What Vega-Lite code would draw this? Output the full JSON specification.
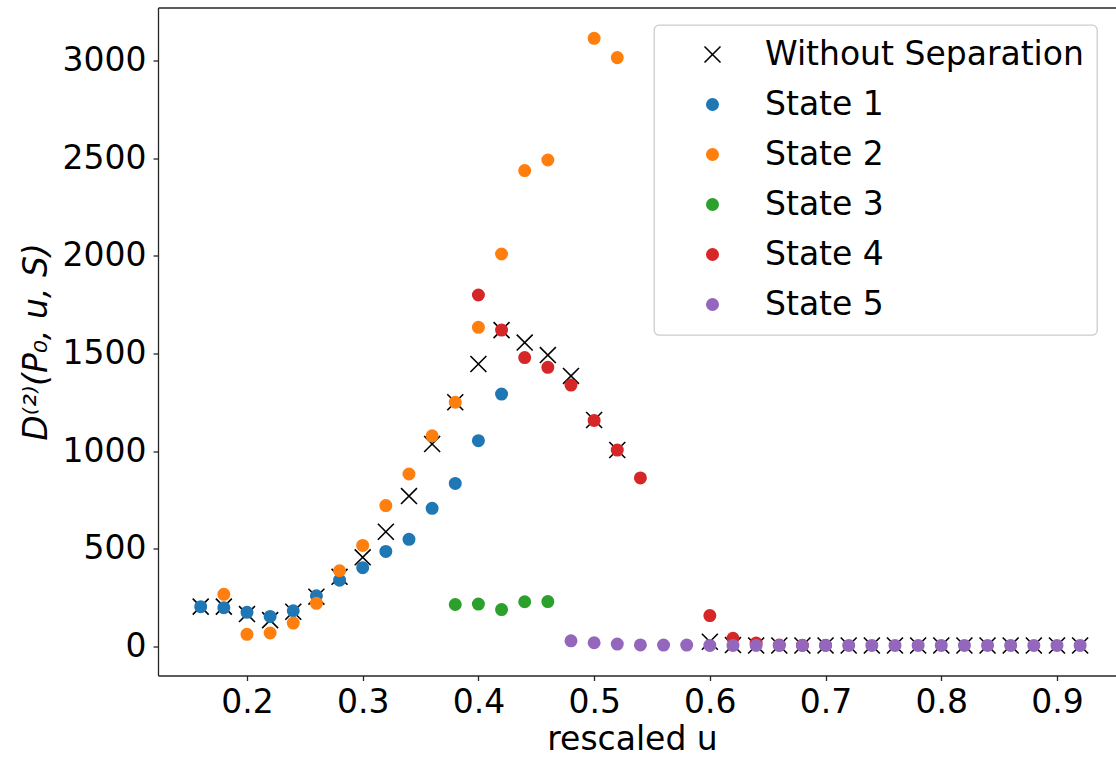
{
  "$schema": "https://vega.github.io/schema/vega-lite/v6.json",
  "autosize": {"type": "none"},
  "padding": {"left": 158, "top": 7.5, "right": 0, "bottom": 81.5},
  "width": 958,
  "height": 668,
  "data": {"values": [
    {"u": 0.16, "D": 202, "series": "Without Separation"},
    {"u": 0.18, "D": 202, "series": "Without Separation"},
    {"u": 0.20, "D": 164, "series": "Without Separation"},
    {"u": 0.22, "D": 133, "series": "Without Separation"},
    {"u": 0.24, "D": 176, "series": "Without Separation"},
    {"u": 0.26, "D": 253, "series": "Without Separation"},
    {"u": 0.28, "D": 355, "series": "Without Separation"},
    {"u": 0.30, "D": 455, "series": "Without Separation"},
    {"u": 0.32, "D": 586, "series": "Without Separation"},
    {"u": 0.34, "D": 769, "series": "Without Separation"},
    {"u": 0.36, "D": 1036, "series": "Without Separation"},
    {"u": 0.38, "D": 1250, "series": "Without Separation"},
    {"u": 0.40, "D": 1446, "series": "Without Separation"},
    {"u": 0.42, "D": 1620, "series": "Without Separation"},
    {"u": 0.44, "D": 1556, "series": "Without Separation"},
    {"u": 0.46, "D": 1492, "series": "Without Separation"},
    {"u": 0.48, "D": 1385, "series": "Without Separation"},
    {"u": 0.50, "D": 1159, "series": "Without Separation"},
    {"u": 0.52, "D": 1005, "series": "Without Separation"},
    {"u": 0.60, "D": 22, "series": "Without Separation"},
    {"u": 0.62, "D": 5, "series": "Without Separation"},
    {"u": 0.64, "D": 3, "series": "Without Separation"},
    {"u": 0.66, "D": 3, "series": "Without Separation"},
    {"u": 0.68, "D": 3, "series": "Without Separation"},
    {"u": 0.70, "D": 3, "series": "Without Separation"},
    {"u": 0.72, "D": 3, "series": "Without Separation"},
    {"u": 0.74, "D": 3, "series": "Without Separation"},
    {"u": 0.76, "D": 3, "series": "Without Separation"},
    {"u": 0.78, "D": 3, "series": "Without Separation"},
    {"u": 0.80, "D": 3, "series": "Without Separation"},
    {"u": 0.82, "D": 3, "series": "Without Separation"},
    {"u": 0.84, "D": 3, "series": "Without Separation"},
    {"u": 0.86, "D": 3, "series": "Without Separation"},
    {"u": 0.88, "D": 3, "series": "Without Separation"},
    {"u": 0.90, "D": 3, "series": "Without Separation"},
    {"u": 0.92, "D": 3, "series": "Without Separation"},
    {"u": 0.16, "D": 202, "series": "State 1"},
    {"u": 0.18, "D": 197, "series": "State 1"},
    {"u": 0.20, "D": 173, "series": "State 1"},
    {"u": 0.22, "D": 152, "series": "State 1"},
    {"u": 0.24, "D": 181, "series": "State 1"},
    {"u": 0.26, "D": 258, "series": "State 1"},
    {"u": 0.28, "D": 338, "series": "State 1"},
    {"u": 0.30, "D": 402, "series": "State 1"},
    {"u": 0.32, "D": 485, "series": "State 1"},
    {"u": 0.34, "D": 547, "series": "State 1"},
    {"u": 0.36, "D": 706, "series": "State 1"},
    {"u": 0.38, "D": 834, "series": "State 1"},
    {"u": 0.40, "D": 1053, "series": "State 1"},
    {"u": 0.42, "D": 1292, "series": "State 1"},
    {"u": 0.18, "D": 265, "series": "State 2"},
    {"u": 0.20, "D": 60, "series": "State 2"},
    {"u": 0.22, "D": 67, "series": "State 2"},
    {"u": 0.24, "D": 118, "series": "State 2"},
    {"u": 0.26, "D": 219, "series": "State 2"},
    {"u": 0.28, "D": 386, "series": "State 2"},
    {"u": 0.30, "D": 516, "series": "State 2"},
    {"u": 0.32, "D": 720, "series": "State 2"},
    {"u": 0.34, "D": 882, "series": "State 2"},
    {"u": 0.36, "D": 1078, "series": "State 2"},
    {"u": 0.38, "D": 1250, "series": "State 2"},
    {"u": 0.40, "D": 1634, "series": "State 2"},
    {"u": 0.42, "D": 2010, "series": "State 2"},
    {"u": 0.44, "D": 2438, "series": "State 2"},
    {"u": 0.46, "D": 2492, "series": "State 2"},
    {"u": 0.50, "D": 3116, "series": "State 2"},
    {"u": 0.52, "D": 3017, "series": "State 2"},
    {"u": 0.38, "D": 213, "series": "State 3"},
    {"u": 0.40, "D": 215, "series": "State 3"},
    {"u": 0.42, "D": 187, "series": "State 3"},
    {"u": 0.44, "D": 227, "series": "State 3"},
    {"u": 0.46, "D": 228, "series": "State 3"},
    {"u": 0.40, "D": 1800, "series": "State 4"},
    {"u": 0.42, "D": 1620, "series": "State 4"},
    {"u": 0.44, "D": 1479, "series": "State 4"},
    {"u": 0.46, "D": 1429, "series": "State 4"},
    {"u": 0.48, "D": 1338, "series": "State 4"},
    {"u": 0.50, "D": 1157, "series": "State 4"},
    {"u": 0.52, "D": 1005, "series": "State 4"},
    {"u": 0.54, "D": 862, "series": "State 4"},
    {"u": 0.60, "D": 156, "series": "State 4"},
    {"u": 0.62, "D": 40, "series": "State 4"},
    {"u": 0.64, "D": 15, "series": "State 4"},
    {"u": 0.66, "D": 5, "series": "State 4"},
    {"u": 0.68, "D": 4, "series": "State 4"},
    {"u": 0.70, "D": 4, "series": "State 4"},
    {"u": 0.48, "D": 27, "series": "State 5"},
    {"u": 0.50, "D": 17, "series": "State 5"},
    {"u": 0.52, "D": 10, "series": "State 5"},
    {"u": 0.54, "D": 6, "series": "State 5"},
    {"u": 0.56, "D": 5, "series": "State 5"},
    {"u": 0.58, "D": 5, "series": "State 5"},
    {"u": 0.60, "D": 3, "series": "State 5"},
    {"u": 0.62, "D": 3, "series": "State 5"},
    {"u": 0.64, "D": 3, "series": "State 5"},
    {"u": 0.66, "D": 3, "series": "State 5"},
    {"u": 0.68, "D": 3, "series": "State 5"},
    {"u": 0.70, "D": 3, "series": "State 5"},
    {"u": 0.72, "D": 3, "series": "State 5"},
    {"u": 0.74, "D": 3, "series": "State 5"},
    {"u": 0.76, "D": 3, "series": "State 5"},
    {"u": 0.78, "D": 3, "series": "State 5"},
    {"u": 0.80, "D": 3, "series": "State 5"},
    {"u": 0.82, "D": 3, "series": "State 5"},
    {"u": 0.84, "D": 3, "series": "State 5"},
    {"u": 0.86, "D": 3, "series": "State 5"},
    {"u": 0.88, "D": 3, "series": "State 5"},
    {"u": 0.90, "D": 3, "series": "State 5"},
    {"u": 0.92, "D": 3, "series": "State 5"}
  ]},
  "layer": [
    {
      "mark": {"type": "point", "filled": false, "strokeWidth": 1.6, "opacity": 1, "clip": true},
      "encoding": {
        "x": {"field": "u", "type": "quantitative",
          "scale": {"domain": [0.1231, 0.951], "nice": false, "zero": false},
          "axis": {"title": "rescaled u", "values": [0.2, 0.3, 0.4, 0.5, 0.6, 0.7, 0.8, 0.9], "format": ".1f", "labelPadding": 6, "titlePadding": 4, "titleX": 474}},
        "y": {"field": "D", "type": "quantitative",
          "scale": {"domain": [-151, 3274], "nice": false, "zero": false},
          "axis": {"title": "D⁽²⁾(P₀, u, S)", "titleFontStyle": "italic", "values": [0, 500, 1000, 1500, 2000, 2500, 3000], "format": "d", "labelPadding": 7, "titlePadding": 9}},
        "fill": {"field": "series", "type": "nominal",
          "scale": {"domain": ["Without Separation", "State 1", "State 2", "State 3", "State 4", "State 5"],
                    "range": ["#000000", "#1f77b4", "#ff7f0e", "#2ca02c", "#d62728", "#9467bd"]},
          "legend": {"title": null}},
        "stroke": {"field": "series", "type": "nominal",
          "scale": {"domain": ["Without Separation", "State 1", "State 2", "State 3", "State 4", "State 5"],
                    "range": ["#000000", "#1f77b4", "#ff7f0e", "#2ca02c", "#d62728", "#9467bd"]},
          "legend": {"title": null}},
        "shape": {"field": "series", "type": "nominal",
          "scale": {"domain": ["Without Separation", "State 1", "State 2", "State 3", "State 4", "State 5"],
                    "range": ["M-1.4,-1.4L1.4,1.4M-1.4,1.4L1.4,-1.4", "circle", "circle", "circle", "circle", "circle"]},
          "legend": {"title": null}}
      }
    },
    {
      "mark": {"type": "point", "opacity": 0},
      "encoding": {
        "x": {"field": "u", "type": "quantitative",
          "axis": {"orient": "top", "labels": false, "ticks": false, "title": null, "domain": true}}
      }
    }
  ],
  "resolve": {"axis": {"x": "independent"}},
  "config": {
    "font": "DejaVu Sans",
    "view": {"stroke": null},
    "point": {"size": 130},
    "axis": {
      "grid": false,
      "domainColor": "#262626", "domainWidth": 1.3,
      "tickColor": "#262626", "tickWidth": 1.3, "tickSize": 5,
      "labelFont": "DejaVu Sans", "labelFontSize": 33, "labelColor": "#000000",
      "titleFont": "DejaVu Sans", "titleFontSize": 33, "titleFontWeight": "normal", "titleColor": "#000000"
    },
    "legend": {
      "orient": "none", "legendX": 496, "legendY": 17.5,
      "fillColor": "#ffffff", "strokeColor": "#cccccc", "strokeWidth": 1.3, "cornerRadius": 5,
      "padding": 13, "rowPadding": 16,
      "labelFont": "DejaVu Sans", "labelFontSize": 33, "labelColor": "#000000", "labelLimit": 600,
      "symbolSize": 130, "symbolStrokeWidth": 1.6, "symbolOffset": 29, "labelOffset": 36
    }
  }
}
